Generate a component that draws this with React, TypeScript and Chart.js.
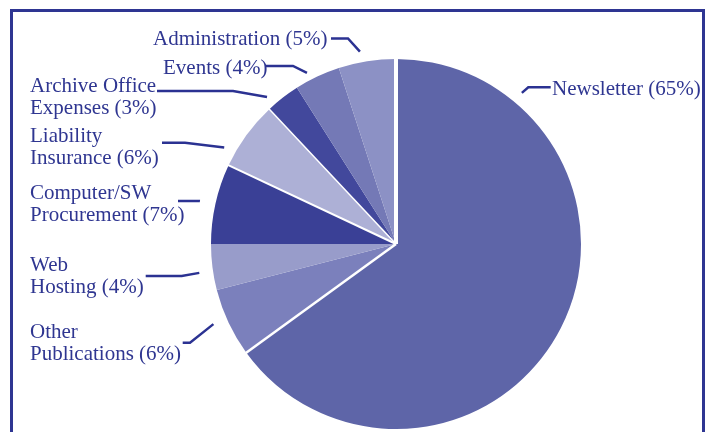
import React, { useEffect, useRef } from "react";
import { Chart, registerables } from "chart.js";

Chart.register(...registerables);

// ---- data ----
const categories = [
  "Newsletter",
  "Other Publications",
  "Web Hosting",
  "Computer/SW Procurement",
  "Liability Insurance",
  "Archive Office Expenses",
  "Events",
  "Administration",
];
const shares = [65, 6, 4, 7, 6, 3, 4, 5];
const labelTexts = [
  ["Newsletter (65%)"],
  ["Other", "Publications (6%)"],
  ["Web", "Hosting (4%)"],
  ["Computer/SW", "Procurement (7%)"],
  ["Liability", "Insurance (6%)"],
  ["Archive Office", "Expenses (3%)"],
  ["Events (4%)"],
  ["Administration (5%)"],
];

// ---- styles / layout ----
const sliceColors = [
  "#5e65a8",
  "#7b80bc",
  "#989cca",
  "#3a4096",
  "#adb0d6",
  "#42489c",
  "#7479b6",
  "#8c91c5",
];
const textColor = "#2f3691";
const lineColor = "#2b3292";
const labelX = [552, 30, 30, 30, 30, 30, 163, 153];
const labelY = [89, 332, 265, 193, 136, 86, 68, 39];
const lineGap = 22.5;
const leaderY = [87.3, 342.7, 276, 201, 142.7, 91, 66, 38.5];
const leaderStartX = [550.7, 182.7, 145.7, 178, 162, 157, 265, 331];
const leaderElbowX = [528.3, 190, 181.7, 199.3, 185, 233, 293, 348];
const tipFrac = [0.17, 0.57, 0.42, 0.49, 0.19, 0.18, 0.34, 0.41];
const tipGap = [11.7, 14.4, 13.8, 15.7, 12, 10.6, 7.8, 10.8];
const separatorIndex = [0, 1, 4, 5];
const separatorWidth = [4, 2.5, 2, 1.5];

const annotPlugin = {
  id: "annot",
  afterDatasetsDraw(chart: any) {
    const ctx = chart.ctx;
    const arcs = chart.getDatasetMeta(0).data;
    ctx.save();
    // white separators
    separatorIndex.forEach((idx, k) => {
      const a = arcs[idx].getProps(["x", "y", "startAngle", "outerRadius"], true);
      ctx.strokeStyle = "#ffffff";
      ctx.lineWidth = separatorWidth[k];
      ctx.lineCap = "butt";
      ctx.beginPath();
      ctx.moveTo(a.x, a.y);
      ctx.lineTo(
        a.x + (a.outerRadius + 1) * Math.cos(a.startAngle),
        a.y + (a.outerRadius + 1) * Math.sin(a.startAngle)
      );
      ctx.stroke();
    });
    // leader lines and labels
    ctx.font = "21px 'Liberation Serif', serif";
    ctx.textBaseline = "middle";
    ctx.textAlign = "left";
    arcs.forEach((arc: any, i: number) => {
      const a = arc.getProps(["x", "y", "startAngle", "endAngle", "outerRadius"], true);
      const ang = a.startAngle + (a.endAngle - a.startAngle) * tipFrac[i];
      const r = a.outerRadius + tipGap[i];
      const tx = a.x + r * Math.cos(ang);
      const ty = a.y + r * Math.sin(ang);
      ctx.strokeStyle = lineColor;
      ctx.lineWidth = 2.5;
      ctx.lineJoin = "miter";
      ctx.beginPath();
      ctx.moveTo(leaderStartX[i], leaderY[i]);
      ctx.lineTo(leaderElbowX[i], leaderY[i]);
      ctx.lineTo(tx, ty);
      ctx.stroke();
      ctx.fillStyle = textColor;
      labelTexts[i].forEach((t, j) => {
        ctx.fillText(t, labelX[i], labelY[i] + j * lineGap);
      });
    });
    ctx.restore();
  },
};

export default function App() {
  const canvasRef = useRef<HTMLCanvasElement | null>(null);
  useEffect(() => {
    if (!canvasRef.current) return;
    const chart = new Chart(canvasRef.current, {
      type: "pie",
      data: {
        labels: categories,
        datasets: [
          {
            data: shares,
            backgroundColor: sliceColors,
            borderWidth: 0,
          },
        ],
      },
      options: {
        animation: false,
        responsive: true,
        maintainAspectRatio: false,
        layout: { padding: { left: 211, top: 59, right: 126, bottom: 3 } },
        plugins: {
          legend: { display: false },
          tooltip: { enabled: false },
          title: { display: false },
        },
      },
      plugins: [annotPlugin],
    });
    return () => chart.destroy();
  }, []);
  return (
    <div
      style={{
        position: "fixed",
        left: 0,
        top: 0,
        width: 707,
        height: 432,
        overflow: "hidden",
        background: "#ffffff",
      }}
    >
      <div
        style={{
          position: "absolute",
          left: 10,
          top: 9,
          width: 695,
          height: 600,
          border: "3px solid #2e3592",
          boxSizing: "border-box",
        }}
      />
      <div style={{ position: "absolute", left: 0, top: 0, width: 707, height: 432 }}>
        <canvas ref={canvasRef} />
      </div>
    </div>
  );
}
